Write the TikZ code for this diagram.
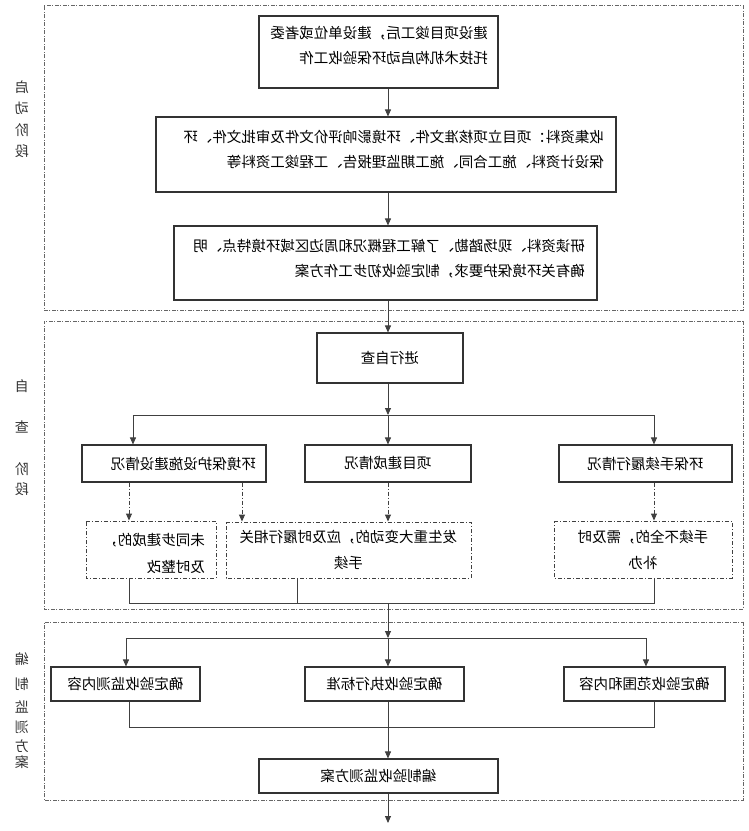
\documentclass[tikz,border=0pt]{standalone}
\usepackage{fontspec}
\setmainfont{Noto Sans CJK SC}
\usetikzlibrary{arrows.meta}
\tikzset{
  frame/.style={draw=black!60, line width=0.7pt, dash pattern=on 4pt off 1.5pt on 1pt off 1.5pt},
  box/.style={draw=black!80, line width=1.1pt, inner sep=0pt, rectangle, align=center,
    font=\fontsize{14.5}{26}\selectfont},
  dbox/.style={box, draw=black!75, line width=0.9pt, dash pattern=on 4pt off 2pt on 1pt off 2pt},
  txt/.style={inner sep=0pt, align=left, font=\fontsize{14.5}{25}\selectfont},
  conn/.style={draw=black!75, line width=0.9pt},
  arr/.style={conn, -{Triangle[length=7pt,width=6pt]}},
  darr/.style={arr, dash pattern=on 4pt off 2pt on 1pt off 2pt},
  lab/.style={inner sep=0pt, text=black!80, align=center, anchor=north}
}
\begin{document}
\begin{tikzpicture}[x=1pt, y=-1pt, xscale=-1, transform shape]
\useasboundingbox (0,0) rectangle (748,831);
% stage frames
\draw[frame] (5,5) rectangle (704,310);
\draw[frame] (5,321) rectangle (704,609);
\draw[frame] (5,622) rectangle (704,800);
% side labels
\node[lab, font=\fontsize{14}{21.3}\selectfont] (L1) at (726,80.5) {启\\动\\阶\\段};
\node[lab, font=\fontsize{14}{20}\selectfont] (L2) at (726,379.5) {自\\[21pt]查\\[22pt]阶\\段};
\node[lab, font=\fontsize{14}{20}\selectfont] (L3) at (726,652.5) {编\\[5pt]制\\[3pt]监\\测\\[-1pt]方\\[-4pt]案};
% spine
\coordinate (sp) at (360,0);
% stage 1
\node[box, minimum width=239, minimum height=72] (A) at (369.5,52) {};
\node[txt, anchor=base west] (At) at (260,63) {建设项目竣工后，建设单位或者委\\托技术机构启动环保验收工作};
\node[box, minimum width=460, minimum height=75] (B) at (362,154.5) {};
\node[txt, anchor=base west] (Bt) at (144,167) {收集资料：项目立项核准文件、环境影响评价文件及审批文件、环\\保设计资料、施工合同、施工期监理报告、工程竣工资料等};
\node[box, minimum width=423, minimum height=74] (C) at (362.5,263) {};
\node[txt, anchor=base west] (Ct) at (163,276) {研读资料、现场踏勘、了解工程概况和周边区域环境特点、明\\确有关环境保护要求，制定验收初步工作方案};
\draw[arr] (A.south -| sp) -- (B.north -| sp);
\draw[arr] (B.south -| sp) -- (C.north -| sp);
% stage 2
\node[box, minimum width=146, minimum height=50] (D) at (358,358) {进行自查};
\draw[arr] (C.south -| sp) -- (D.north -| sp);
\coordinate (h1) at (360,415);
\coordinate (h1l) at (615,415);
\coordinate (h1r) at (94,415);
\draw[arr] (D.south -| sp) -- (h1);
\draw[conn] (h1l) -- (h1r);
\node[box, minimum width=184, minimum height=37] (E) at (574,463.5) {};
\node[txt, anchor=base west] (Et) at (492,469.5) {环境保护设施建设情况};
\node[box, minimum width=166, minimum height=37] (F) at (360,463.5) {项目建成情况};
\node[box, minimum width=173, minimum height=37] (G) at (102.5,463.5) {环保手续履行情况};
\draw[arr] (h1l) -- (E.north -| h1l);
\draw[arr] (h1) -- (F.north -| sp);
\draw[arr] (h1r) -- (G.north -| h1r);
\node[dbox, minimum width=130, minimum height=57] (H) at (597,549.5) {};
\node[txt, anchor=base west, font=\fontsize{14.5}{27}\selectfont] (Ht) at (543,572.5) {未同步建成的，\\及时整改};
\node[dbox, minimum width=245, minimum height=56] (I) at (399.5,550) {发生重大变动的，应及时履行相关\\手续};
\node[dbox, minimum width=178, minimum height=57] (J) at (105,549.5) {手续不全的，需及时\\补办};
\coordinate (xh) at (619,0);
\coordinate (xi) at (506,0);
\draw[darr] (E.south -| xh) -- (H.north -| xh);
\draw[darr] (E.south -| xi) -- (I.north -| xi);
\draw[darr] (F.south -| sp) -- (I.north -| sp);
\draw[darr] (G.south -| h1r) -- (J.north -| h1r);
\coordinate (b1l) at (619,603);
\coordinate (b1m) at (451,603);
\coordinate (b1r) at (94,603);
\coordinate (b1c) at (360,603);
\draw[conn] (H.south -| b1l) -- (b1l) -- (b1r) -- (J.south -| b1r);
\draw[conn] (I.south -| b1m) -- (b1m);
% stage 3
\coordinate (h3) at (360,638);
\coordinate (h3l) at (622,638);
\coordinate (h3r) at (102,638);
\draw[arr] (b1c) -- (h3);
\draw[conn] (h3l) -- (h3r);
\node[box, minimum width=149, minimum height=34] (K) at (622.5,684) {确定验收监测内容};
\node[box, minimum width=159, minimum height=34] (Lb) at (363.5,684) {确定验收执行标准};
\node[box, minimum width=161, minimum height=34] (M) at (103.5,684) {确定验收范围和内容};
\draw[arr] (h3l) -- (K.north -| h3l);
\draw[arr] (h3) -- (Lb.north -| sp);
\draw[arr] (h3r) -- (M.north -| h3r);
\coordinate (b3l) at (618.5,727);
\coordinate (b3r) at (94,727);
\coordinate (b3c) at (360,727);
\draw[conn] (K.south -| b3l) -- (b3l) -- (b3r) -- (M.south -| b3r);
\draw[conn] (Lb.south -| sp) -- (b3c);
\node[box, minimum width=239, minimum height=34] (N) at (369.5,776) {编制验收监测方案};
\draw[arr] (b3c) -- (N.north -| sp);
\coordinate (end) at (360,823);
\draw[arr] (N.south -| sp) -- (end);
\end{tikzpicture}
\end{document}
